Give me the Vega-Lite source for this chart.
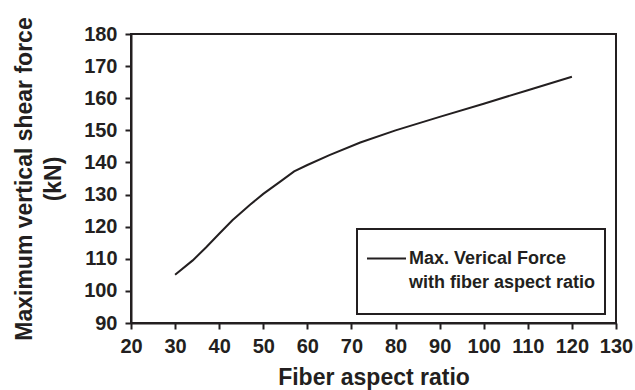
{
  "$schema": "https://vega.github.io/schema/vega-lite/v6.json",
  "width": 485,
  "height": 289,
  "autosize": {"type": "none"},
  "padding": {"left": 131, "top": 34, "right": 19, "bottom": 67},
  "background": "white",
  "config": {
    "font": "Liberation Sans",
    "view": {"stroke": "#231f20", "strokeWidth": 2},
    "axis": {
      "grid": false,
      "domainColor": "#231f20",
      "domainWidth": 2,
      "tickColor": "#231f20",
      "tickWidth": 2,
      "tickSize": 6,
      "labelFont": "Liberation Sans",
      "labelFontWeight": "bold",
      "labelFontSize": 20,
      "labelColor": "#231f20",
      "labelOverlap": false,
      "labelFlush": false,
      "titleFont": "Liberation Sans",
      "titleFontWeight": "bold",
      "titleFontSize": 23,
      "titleColor": "#231f20"
    }
  },
  "data": {
    "values": [
      {"ratio": 30, "force": 105, "series": "Max. Verical Force|with fiber aspect ratio"},
      {"ratio": 34, "force": 109.5, "series": "Max. Verical Force|with fiber aspect ratio"},
      {"ratio": 37, "force": 113.5, "series": "Max. Verical Force|with fiber aspect ratio"},
      {"ratio": 40, "force": 117.8, "series": "Max. Verical Force|with fiber aspect ratio"},
      {"ratio": 43, "force": 122, "series": "Max. Verical Force|with fiber aspect ratio"},
      {"ratio": 47, "force": 126.8, "series": "Max. Verical Force|with fiber aspect ratio"},
      {"ratio": 50, "force": 130.2, "series": "Max. Verical Force|with fiber aspect ratio"},
      {"ratio": 54, "force": 134.2, "series": "Max. Verical Force|with fiber aspect ratio"},
      {"ratio": 57, "force": 137.2, "series": "Max. Verical Force|with fiber aspect ratio"},
      {"ratio": 60, "force": 139.2, "series": "Max. Verical Force|with fiber aspect ratio"},
      {"ratio": 65, "force": 142.3, "series": "Max. Verical Force|with fiber aspect ratio"},
      {"ratio": 72, "force": 146.2, "series": "Max. Verical Force|with fiber aspect ratio"},
      {"ratio": 80, "force": 150, "series": "Max. Verical Force|with fiber aspect ratio"},
      {"ratio": 90, "force": 154.2, "series": "Max. Verical Force|with fiber aspect ratio"},
      {"ratio": 100, "force": 158.3, "series": "Max. Verical Force|with fiber aspect ratio"},
      {"ratio": 110, "force": 162.5, "series": "Max. Verical Force|with fiber aspect ratio"},
      {"ratio": 120, "force": 166.7, "series": "Max. Verical Force|with fiber aspect ratio"}
    ]
  },
  "mark": {"type": "line", "strokeWidth": 2},
  "encoding": {
    "x": {
      "field": "ratio",
      "type": "quantitative",
      "scale": {"domain": [20, 130], "nice": false},
      "axis": {"values": [20, 30, 40, 50, 60, 70, 80, 90, 100, 110, 120, 130], "title": "Fiber aspect ratio", "titlePadding": 10, "labelPadding": 7}
    },
    "y": {
      "field": "force",
      "type": "quantitative",
      "scale": {"domain": [90, 180], "nice": false, "zero": false},
      "axis": {"values": [90, 100, 110, 120, 130, 140, 150, 160, 170, 180], "title": ["Maximum vertical shear force", "(kN)"], "titleLineHeight": 29, "titlePadding": 18, "labelPadding": 8}
    },
    "stroke": {
      "field": "series",
      "type": "nominal",
      "scale": {"range": ["#231f20"]},
      "legend": {
        "title": " ",
        "titleOrient": "bottom",
        "titleFontSize": 7,
        "titlePadding": 6,
        "orient": "none",
        "legendX": 226,
        "legendY": 195,
        "strokeColor": "#231f20",
        "fillColor": "white",
        "padding": 9,
        "symbolType": "stroke",
        "symbolSize": 1521,
        "symbolStrokeWidth": 2,
        "labelExpr": "split(datum.label, '|')",
        "labelFont": "Liberation Sans",
        "labelFontWeight": "bold",
        "labelFontSize": 18,
        "labelColor": "#231f20",
        "labelLimit": 400,
        "labelOffset": 2,
        "encode": {
          "legend": {"update": {"strokeWidth": {"value": 2}}},
          "labels": {"update": {"lineHeight": {"value": 24}}}
        }
      }
    }
  }
}
